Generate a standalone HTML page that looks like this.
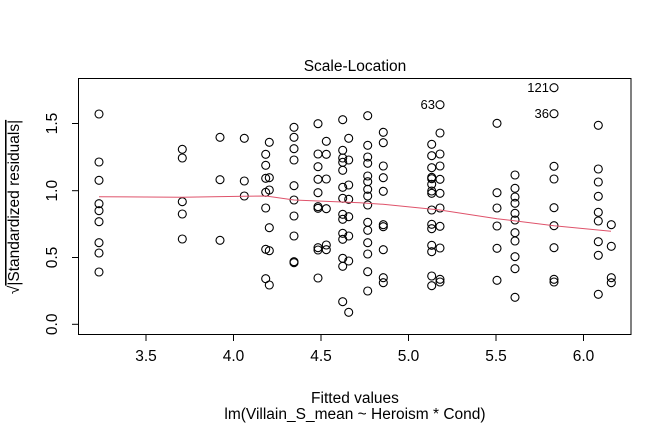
<!DOCTYPE html>
<html><head><meta charset="utf-8"><style>
html,body{margin:0;padding:0;background:#fff;}
svg{display:block;font-family:"Liberation Sans",Arial,sans-serif;}
</style></head><body>
<svg id="s" width="672" height="432" viewBox="0 0 672 432" xmlns="http://www.w3.org/2000/svg">
<rect x="0" y="0" width="672" height="432" fill="#fff"/>
<rect x="78.5" y="78.5" width="552.5" height="256" fill="none" stroke="#000" stroke-width="1"/>
<g stroke="#000" stroke-width="1">
<line x1="146" y1="334.5" x2="146" y2="341"/>
<line x1="233.5" y1="334.5" x2="233.5" y2="341"/>
<line x1="321" y1="334.5" x2="321" y2="341"/>
<line x1="408.5" y1="334.5" x2="408.5" y2="341"/>
<line x1="496" y1="334.5" x2="496" y2="341"/>
<line x1="583.5" y1="334.5" x2="583.5" y2="341"/>
<line x1="72" y1="324.3" x2="78.5" y2="324.3"/>
<line x1="72" y1="257.5" x2="78.5" y2="257.5"/>
<line x1="72" y1="190.7" x2="78.5" y2="190.7"/>
<line x1="72" y1="123.5" x2="78.5" y2="123.5"/>
</g>
<g font-size="15.5" text-anchor="middle" fill="#000">
<text x="146" y="361">3.5</text>
<text x="233.5" y="361">4.0</text>
<text x="321" y="361">4.5</text>
<text x="408.5" y="361">5.0</text>
<text x="496" y="361">5.5</text>
<text x="583.5" y="361">6.0</text>
<text transform="translate(57,324.3) rotate(-90)">0.0</text>
<text transform="translate(57,257.5) rotate(-90)">0.5</text>
<text transform="translate(57,190.7) rotate(-90)">1.0</text>
<text transform="translate(57,123.5) rotate(-90)">1.5</text>
<text x="355" y="71">Scale-Location</text>
<text x="355" y="403">Fitted values</text>
<text x="355" y="419">lm(Villain_S_mean ~ Heroism * Cond)</text>
<text transform="translate(19,207) rotate(-90)">√<tspan text-decoration="overline">|Standardized residuals|</tspan></text>
</g>
<g font-size="13" text-anchor="end" fill="#000">
<text x="549" y="92">121</text>
<text x="549" y="118">36</text>
<text x="435" y="109">63</text>
</g>
<g id="pts" fill="none" stroke="#000" stroke-width="1.1"></g>
<polyline fill="none" stroke="#DF536B" stroke-width="1" points="99,196.7 182,197.3 244,196.3 266,196 294,200 360,202.7 383,204.3 440,210 497,218.7 554,225.7 611,231.3"/>
</svg>
<script>
var A=[[117,[102,246,301,371,392,425,488,519,576]],[367,[208,234,365,402,477]],[480,[172,299,481]],[553,[175,303,348]],[617,[223,256,295,337,384,508,596]],[628,[187,293,330,443,512,615]],[702,[142,172,206,240,317,360,408,468,545,548]],[774,[131,222,260,298,338,380,385,503,510,594]],[799,[184,223,297,386,495,509]],[848,[119,211,234,247,271,322,355,403,418,460,478,535,559,665]],[866,[175,240,315,358,410,468,543,697]]];
var B=[[83,[107,196,231,250,288,305,328,348,375,427,451,488,522,575,633]],[130,[157,188,258,293,334,434,440,509,593,608]],[275,[193,227,263,292,296,313,333,340,390,433,446,496,515,588,617]],[300,[74,159,222,258,298,340,384,439,504,598,606]],[471,[130,338,384,438,505,601]],[525,[285,325,351,370,400,420,458,483,530,566,652]],[642,[23,101,259,297,383,437,503,598,606]],[775,[136,267,306,349,397,423,485,526,643]],[814,[434,499,593,608]]];
var g=document.getElementById('pts'),h='';
function add(L,ox,oy){L.forEach(function(c){c[1].forEach(function(y){h+='<circle cx="'+(ox+c[0]/3).toFixed(1)+'" cy="'+(oy+y/3).toFixed(1)+'" r="4"/>';});});}
add(A,60,80);add(B,340,80);
g.innerHTML=h;
</script>
</body></html>
